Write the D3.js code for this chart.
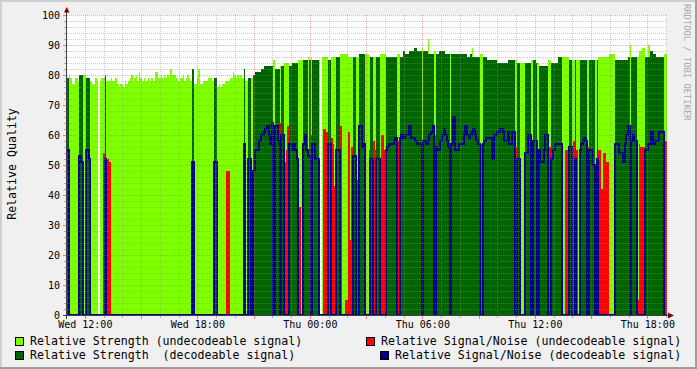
<!DOCTYPE html>
<html lang="en">
<head>
<meta charset="UTF-8">
<title>Relative Quality</title>
<script src="https://cdn.jsdelivr.net/npm/d3@7/dist/d3.min.js"></script>
<style>
    body { margin: 0; background: #f0f0f0; }
    svg { display: block; font-family: "DejaVu Sans Mono", monospace; }
</style>
</head>
<body>
<svg></svg>
<script>
    // 5 minute samples, 32 hours starting Wed 11:03
    const start = new Date(2013, 0, 2, 11, 3);
    const stepMin = 5;

    // relative strength, undecodeable signal (light green)
    const strengthU = [
        0,80,79,77,77,79,79,78,0,0,80,80,0,0,0,78,
        77,77,79,78,0,78,79,79,0,78,78,78,79,78,78,79,
        77,76,77,77,76,78,77,78,79,80,78,79,80,78,81,79,
        78,79,78,78,79,78,79,78,81,81,79,79,80,79,80,79,
        80,79,82,80,80,80,79,78,79,79,80,78,79,80,79,78,
        0,77,77,79,82,77,77,78,78,78,79,79,79,78,0,0,
        76,77,76,77,77,78,78,78,79,79,81,80,79,80,79,80,
        79,0,78,78,0,0,79,0,0,0,0,0,0,0,0,0,
        0,0,0,0,85,0,0,0,83,0,0,84,84,84,0,0,
        0,0,0,0,85,85,85,0,0,0,86,0,86,0,0,0,
        0,85,0,86,86,86,86,0,0,86,86,86,0,0,0,87,
        87,87,87,87,86,86,86,0,0,86,86,0,0,0,0,87,
        87,86,0,0,86,86,0,0,87,87,87,87,0,0,0,0,
        0,0,0,87,87,0,0,0,0,0,0,0,0,0,0,0,
        0,0,0,89,0,0,0,92,0,0,0,88,0,0,0,0,
        0,0,0,0,0,87,0,0,0,0,0,0,0,0,0,0,
        0,0,0,89,0,0,0,0,87,87,0,0,0,0,0,0,
        0,0,0,0,0,0,0,0,0,0,0,0,0,0,0,85,
        0,0,84,84,84,0,0,0,0,85,0,0,0,84,0,0,
        0,0,0,0,85,85,0,0,0,0,0,0,0,86,86,86,
        86,0,0,85,85,0,85,85,0,0,0,0,0,85,0,0,
        0,0,85,0,86,86,86,86,86,86,86,87,87,87,87,0,
        0,0,0,0,0,0,0,0,90,0,0,0,0,86,88,88,
        89,89,0,0,90,0,0,0,0,0,0,0,0,0,87,87
    ];
    // relative strength, decodeable signal (dark green)
    const strengthD = [
        79,0,0,0,0,0,0,0,80,80,0,0,79,79,79,0,
        0,0,0,0,0,0,0,0,80,0,0,0,0,0,0,0,
        0,0,0,0,0,0,0,0,0,0,0,0,0,0,0,0,
        0,0,0,0,0,0,0,0,0,0,0,0,0,0,0,0,
        0,0,0,0,0,0,0,0,0,0,0,0,0,0,0,0,
        82,0,0,0,0,0,0,0,0,0,0,0,0,0,79,79,
        0,0,0,0,0,0,0,0,0,0,0,0,0,0,0,0,
        0,82,0,0,79,79,0,80,81,81,81,81,82,82,83,83,
        83,83,83,83,0,82,82,82,0,83,83,0,0,0,83,83,
        84,84,84,84,0,0,0,85,85,85,53,85,0,85,85,85,
        85,0,0,0,0,0,0,85,85,0,0,0,86,86,86,0,
        0,0,0,0,0,0,0,86,86,0,0,87,87,87,87,0,
        0,0,86,86,0,0,86,86,0,0,0,0,86,86,86,86,
        86,86,86,0,0,86,86,88,87,87,87,88,88,88,89,89,
        88,88,88,55,88,88,88,87,87,87,87,0,87,87,88,88,
        88,88,87,87,87,55,87,87,87,87,87,87,87,87,87,87,
        86,86,87,86,86,86,86,86,0,0,86,86,86,85,85,85,
        85,85,85,84,84,84,84,84,84,84,85,85,85,85,85,0,
        84,84,0,0,0,84,84,84,84,0,85,85,84,0,83,83,
        83,83,83,83,0,0,84,84,84,84,86,86,86,0,0,0,
        0,85,85,0,0,85,0,0,85,85,85,85,85,0,85,85,
        85,85,0,85,0,0,0,0,0,0,0,0,0,0,0,85,
        85,85,85,85,85,85,85,86,0,86,86,86,86,0,0,0,
        0,0,86,86,86,88,88,87,87,86,86,86,86,86,0,0
    ];
    // relative signal/noise, undecodeable signal (red)
    const snrU = [
        0,51,0,0,0,0,0,0,0,0,47,0,0,0,0,0,
        0,0,0,0,0,0,0,54,0,52,52,51,0,0,0,0,
        0,0,0,0,0,0,0,0,0,0,0,0,0,0,0,0,
        0,0,0,0,0,0,0,0,0,0,0,0,0,0,0,0,
        0,0,0,0,0,0,0,0,0,0,0,0,0,0,0,0,
        0,7,0,0,0,0,0,0,0,0,0,0,0,0,0,0,
        0,0,0,0,0,0,48,48,0,0,0,0,0,0,0,0,
        0,0,0,51,0,0,0,0,0,0,0,0,0,0,0,0,
        0,0,0,0,0,0,0,0,64,0,0,51,55,63,0,0,
        0,0,0,0,36,36,0,0,0,0,0,0,60,0,0,0,
        0,39,0,0,62,62,61,0,0,59,57,43,0,0,0,63,
        0,0,5,5,61,25,56,0,0,45,62,0,0,0,0,0,
        0,55,0,0,58,55,0,0,0,60,60,55,0,0,0,0,
        0,0,0,58,58,0,0,0,0,0,0,0,0,0,0,0,
        0,0,0,0,0,0,0,0,0,0,0,60,0,0,0,0,
        0,0,0,0,0,0,0,0,0,0,0,0,0,0,0,0,
        0,0,0,0,0,0,0,0,0,57,0,0,0,0,0,0,
        0,0,0,0,0,0,0,0,0,0,0,0,0,0,0,56,
        0,0,0,0,0,0,0,0,0,0,0,0,0,0,0,0,
        0,0,0,0,56,56,0,0,0,0,0,0,0,0,0,55,
        55,0,0,53,58,0,55,0,0,0,0,0,0,56,0,0,
        0,0,41,0,55,55,42,54,54,51,51,0,0,0,0,0,
        0,0,0,0,0,0,0,0,55,0,0,0,0,5,57,56,
        56,56,0,0,0,0,0,0,0,0,0,0,0,0,61,58
    ];
    // relative signal/noise, decodeable signal (blue line)
    const snrD = [
        55,0,0,0,0,0,0,0,53,51,0,0,55,55,52,0,
        0,0,0,0,0,0,0,0,52,0,0,0,0,0,0,0,
        0,0,0,0,0,0,0,0,0,0,0,0,0,0,0,0,
        0,0,0,0,0,0,0,0,0,0,0,0,0,0,0,0,
        0,0,0,0,0,0,0,0,0,0,0,0,0,0,0,0,
        51,0,0,0,0,0,0,0,0,0,0,0,0,0,51,51,
        0,0,0,0,0,0,0,0,0,0,0,0,0,0,0,0,
        0,57,0,0,52,52,0,48,55,55,55,58,60,60,61,62,
        63,60,57,64,0,63,63,58,0,60,60,0,0,0,57,57,
        55,57,55,52,0,0,0,57,60,55,53,53,0,57,57,52,
        52,0,0,0,0,0,0,57,57,0,0,0,55,55,55,0,
        0,0,0,0,0,0,0,53,53,0,0,63,63,56,57,0,
        0,0,52,52,0,0,52,52,0,0,0,0,55,56,57,57,
        57,58,59,0,0,59,60,59,60,60,60,63,59,59,59,58,
        57,57,57,0,58,58,57,58,60,61,63,0,56,55,55,58,
        60,62,60,58,56,0,57,66,55,55,55,57,57,57,60,63,
        60,59,60,61,62,60,58,57,0,0,57,58,59,59,59,59,
        52,60,60,61,61,62,62,61,58,58,61,57,57,61,61,0,
        52,52,0,0,0,54,54,60,60,0,58,58,58,0,55,51,
        51,55,60,60,0,0,52,55,57,57,57,57,57,0,0,0,
        0,56,56,0,0,52,0,0,55,57,58,59,58,0,55,55,
        50,50,0,52,0,0,0,0,0,0,0,0,0,0,0,57,
        57,54,54,54,51,57,60,63,0,58,60,58,58,0,0,0,
        0,0,55,55,57,57,61,57,58,58,58,61,61,61,0,0
    ];

    const yTicks = [0, 10, 20, 30, 40, 50, 60, 70, 80, 90, 100];
    const legendLabels = [
        "Relative Strength (undecodeable signal)",
        "Relative Signal/Noise (undecodeable signal)",
        "Relative Strength  (decodeable signal)",
        "Relative Signal/Noise (decodeable signal)"
    ];
    const legendColors = ["#7fff00", "#ff0000", "#006400", "#00008b"];

    let W = 697, H = 369;
    let end = d3.timeMinute.offset(start, strengthU.length * stepMin);

    let x = d3.scaleTime().domain([start, end]).range([67, 667]);
    let y = d3.scaleLinear().domain([0, 100]).range([315, 15]);

    let svg = d3.select('svg').attr('width', W).attr('height', H);

    // background and shaded frame
    svg.append('rect').attr('width', W).attr('height', H).attr('fill', '#f0f0f0');
    svg.append('rect').attr('width', W).attr('height', 2).attr('fill', '#cfcfcf');
    svg.append('rect').attr('width', 2).attr('height', H).attr('fill', '#cfcfcf');
    svg.append('rect').attr('y', H - 2).attr('width', W).attr('height', 2).attr('fill', '#9e9e9e');
    svg.append('rect').attr('x', W - 2).attr('width', 2).attr('height', H).attr('fill', '#9e9e9e');

    // canvas
    svg.append('rect').attr('x', 67).attr('y', 15).attr('width', 600).attr('height', 300).attr('fill', '#fff');

    let samples = strengthU.map((v, i) => ({
        t0: d3.timeMinute.offset(start, i * stepMin),
        t1: d3.timeMinute.offset(start, (i + 1) * stepMin),
        su: v, sd: strengthD[i], nu: snrU[i], nd: snrD[i]
    }));

    let plot = svg.append('g').attr('shape-rendering', 'crispEdges');

    function drawArea(key, color) {
        plot.append('g').selectAll('rect')
            .data(samples.filter(d => d[key] > 0))
            .join('rect')
            .attr('x', d => Math.round(x(d.t0)))
            .attr('width', d => Math.round(x(d.t1)) - Math.round(x(d.t0)))
            .attr('y', d => Math.round(y(d[key])))
            .attr('height', d => y(0) - Math.round(y(d[key])))
            .attr('fill', color);
    }
    drawArea('su', legendColors[0]);
    drawArea('sd', legendColors[2]);
    drawArea('nu', legendColors[1]);

    // SNR decodeable as a 2px step line
    let pts = samples.map(d => [Math.round(x(d.t0)), Math.round(y(d.nd))]);
    pts.push([Math.round(x(end)), Math.round(y(snrD[snrD.length - 1]))]);
    svg.append('path')
        .attr('d', d3.line().curve(d3.curveStepAfter)(pts))
        .attr('fill', 'none')
        .attr('stroke', legendColors[3])
        .attr('stroke-width', 2);

    // grid, drawn over the graph
    let grid = svg.append('g').attr('shape-rendering', 'crispEdges');
    let yGrid = d3.range(0, 101, 2);
    grid.selectAll('.hg').data(yGrid).join('line')
        .attr('x1', 67).attr('x2', 667)
        .attr('y1', d => y(d) + 0.5).attr('y2', d => y(d) + 0.5)
        .attr('stroke', d => d % 10 === 0 ? 'rgba(222,80,80,0.45)' : 'rgba(143,143,143,0.45)')
        .attr('stroke-dasharray', '1,1');
    grid.selectAll('.hk').data(yGrid).join('line')
        .attr('x1', d => d % 10 === 0 ? 63 : 64).attr('x2', 67)
        .attr('y1', d => y(d) + 0.5).attr('y2', d => y(d) + 0.5)
        .attr('stroke', d => d % 10 === 0 ? 'rgba(222,80,80,0.7)' : 'rgba(143,143,143,0.7)');

    let hours = d3.timeHour.range(start, end);
    grid.selectAll('.vg').data(hours).join('line')
        .attr('x1', d => Math.round(x(d)) + 0.5).attr('x2', d => Math.round(x(d)) + 0.5)
        .attr('y1', 15).attr('y2', 315)
        .attr('stroke', d => d.getHours() % 3 === 0 ? 'rgba(222,80,80,0.45)' : 'rgba(143,143,143,0.45)')
        .attr('stroke-dasharray', '1,1');
    grid.selectAll('.vk').data(hours).join('line')
        .attr('x1', d => Math.round(x(d)) + 0.5).attr('x2', d => Math.round(x(d)) + 0.5)
        .attr('y1', 315).attr('y2', d => d.getHours() % 3 === 0 ? 319 : 318)
        .attr('stroke', d => d.getHours() % 3 === 0 ? 'rgba(222,80,80,0.7)' : 'rgba(143,143,143,0.7)');

    // axis lines and arrows
    svg.append('line').attr('x1', 66.5).attr('x2', 66.5).attr('y1', 319).attr('y2', 11)
        .attr('stroke', '#404040').attr('shape-rendering', 'crispEdges');
    svg.append('line').attr('x1', 63).attr('x2', 670).attr('y1', 315.5).attr('y2', 315.5)
        .attr('stroke', '#404040').attr('shape-rendering', 'crispEdges');
    svg.append('path').attr('d', 'M64,12.5L69.5,12.5L66.8,7Z').attr('fill', '#7f0000');
    svg.append('path').attr('d', 'M668,312.5L668,318.5L674,315.5Z').attr('fill', '#7f0000');

    // tick labels through d3 axes
    let yAxis = svg.append('g').attr('transform', 'translate(67,0)')
        .call(d3.axisLeft(y).tickValues(yTicks).tickSize(0).tickPadding(7));
    let xAxis = svg.append('g').attr('transform', 'translate(0,315)')
        .call(d3.axisBottom(x)
            .tickValues(hours.filter(d => d.getHours() % 6 === 0))
            .tickFormat(d3.timeFormat('%a %H:%M'))
            .tickSize(0).tickPadding(6));
    [yAxis, xAxis].forEach(a => {
        a.select('.domain').remove();
        a.selectAll('text').attr('font-family', '"DejaVu Sans Mono", monospace')
            .attr('font-size', '10px').attr('fill', '#000');
    });

    // y title
    svg.append('text')
        .attr('transform', 'translate(16,164) rotate(-90)')
        .attr('text-anchor', 'middle')
        .attr('font-size', '11.6px')
        .text('Relative Quality');

    // watermark
    svg.append('text')
        .attr('transform', 'translate(683.5,4) rotate(90)')
        .attr('font-size', '8.8px')
        .attr('fill', '#aaaaaa')
        .text('RRDTOOL / TOBI OETIKER');

    // legend
    let legendPos = [[15, 337], [366, 337], [15, 351], [380, 351]];
    let legend = svg.append('g').selectAll('g')
        .data(legendLabels)
        .join('g')
        .attr('transform', (d, i) => 'translate(' + legendPos[i] + ')');
    legend.append('rect')
        .attr('x', 0.5).attr('y', 0.5).attr('width', 8).attr('height', 8)
        .attr('fill', (d, i) => legendColors[i])
        .attr('stroke', '#000').attr('stroke-width', 1)
        .attr('shape-rendering', 'crispEdges');
    legend.append('text')
        .attr('x', 15).attr('y', 7.7)
        .attr('font-size', '11.6px')
        .attr('xml:space', 'preserve')
        .style('white-space', 'pre')
        .text(d => d);
</script>
</body>
</html>
